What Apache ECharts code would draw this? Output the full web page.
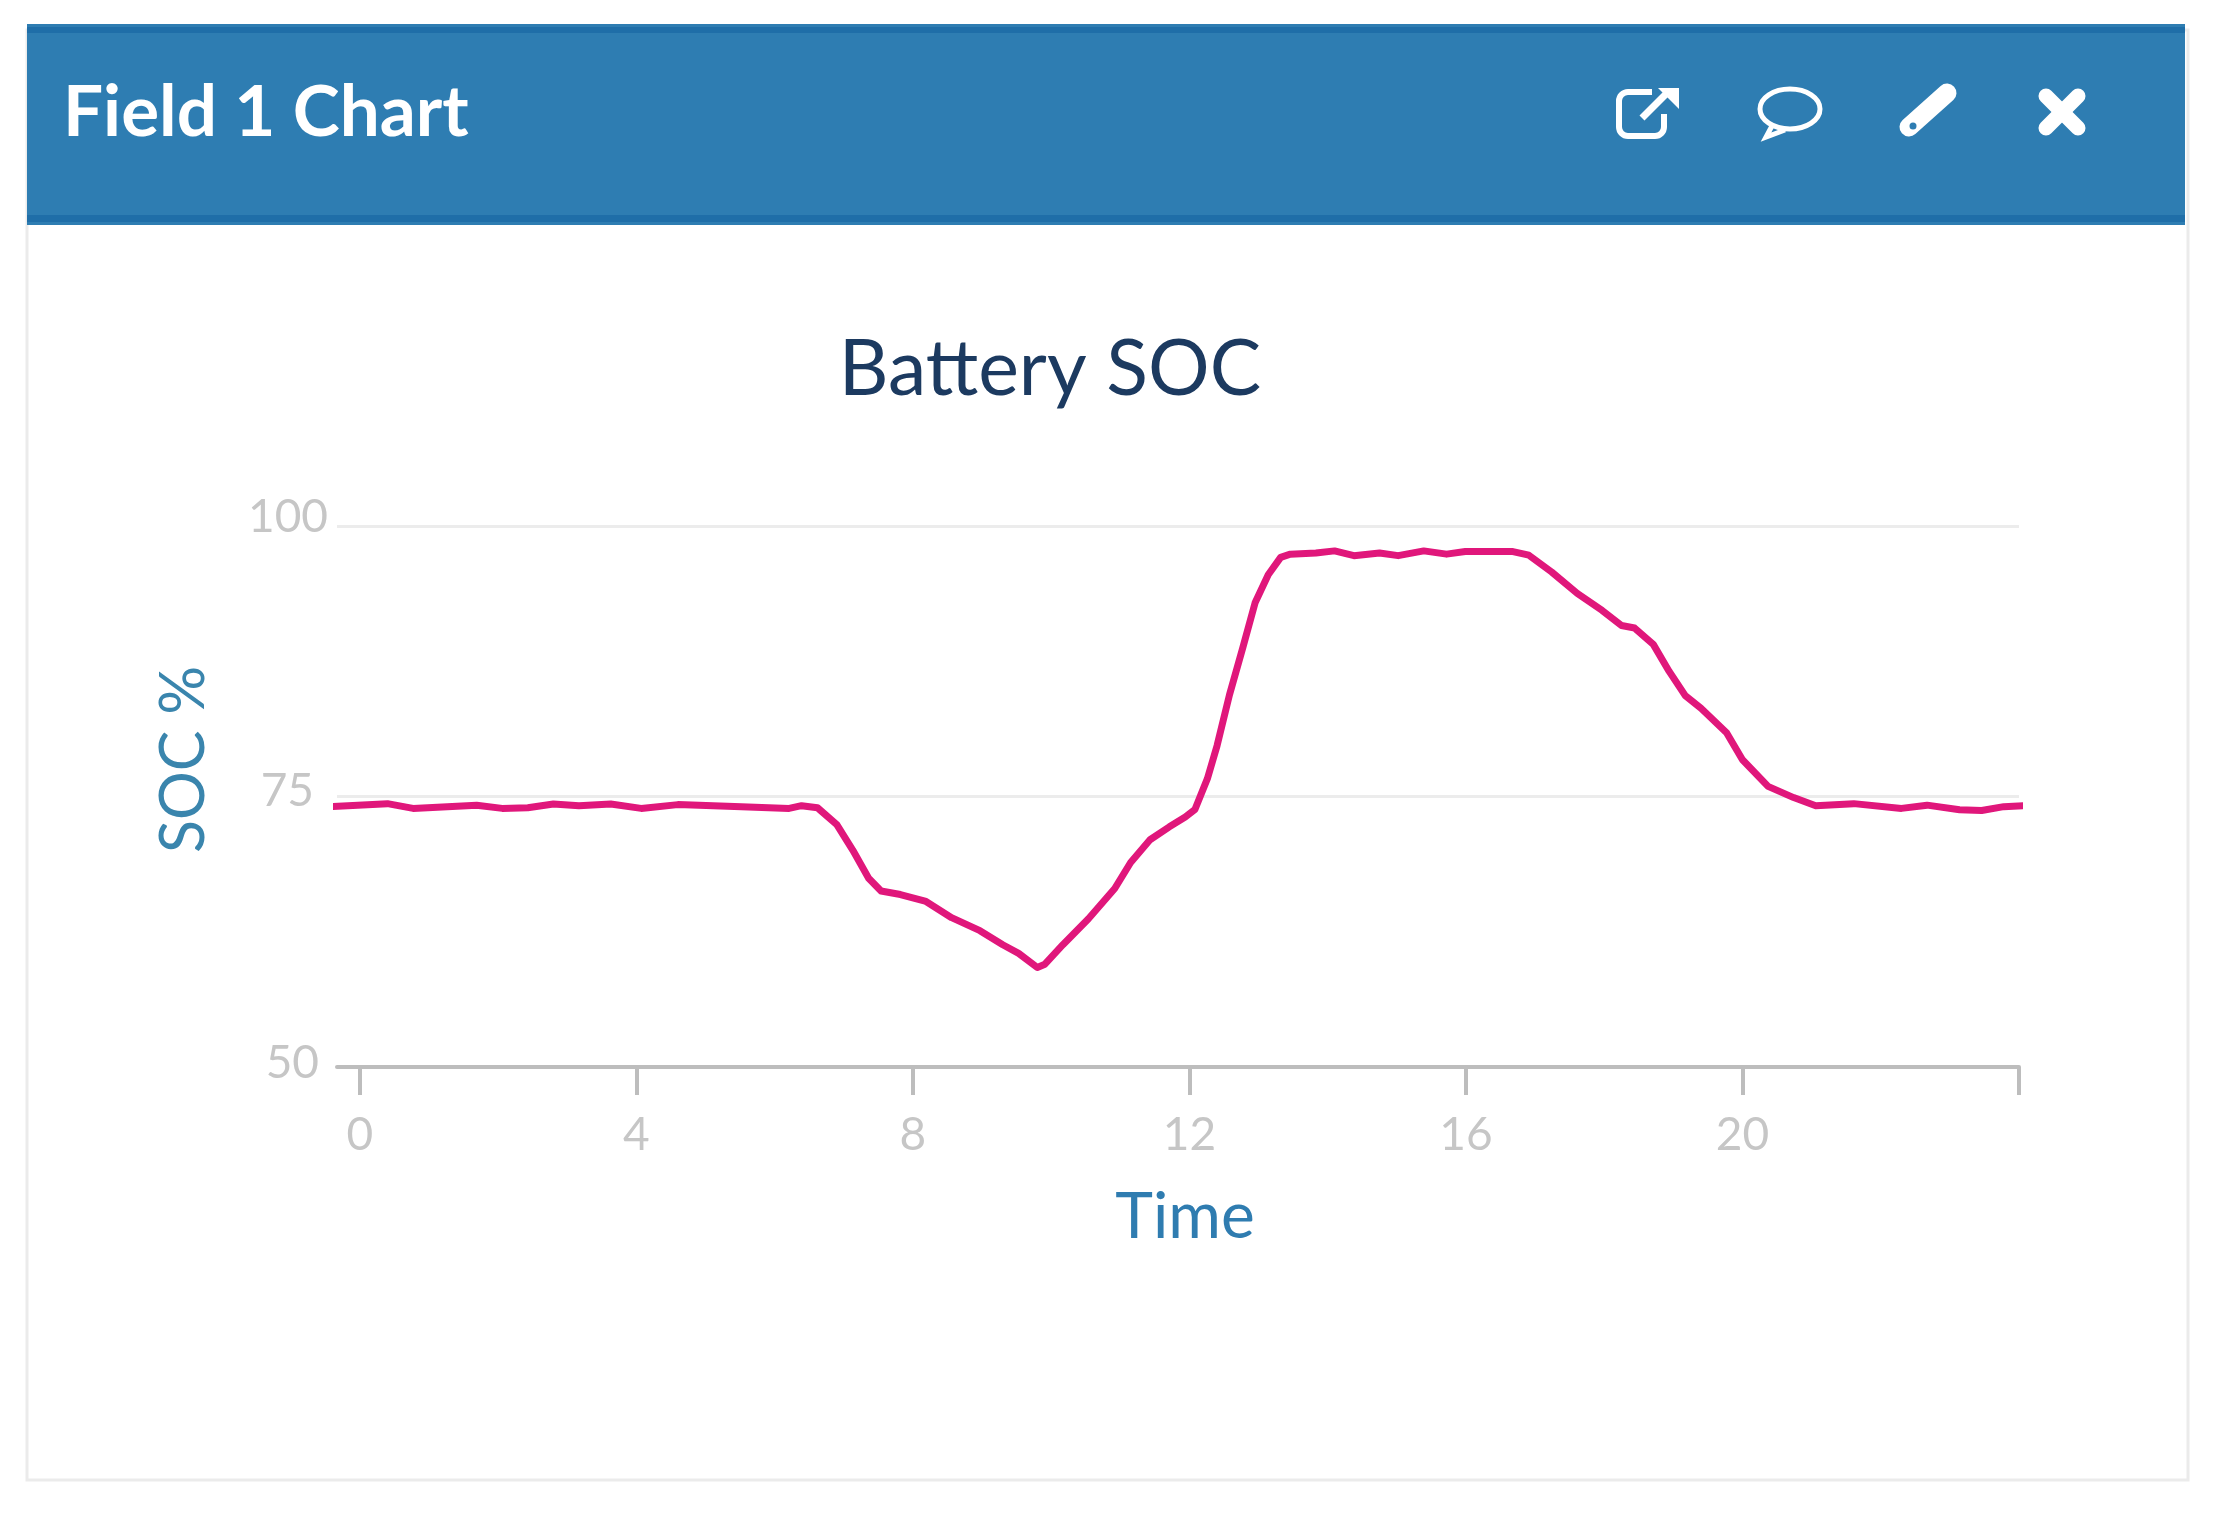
<!DOCTYPE html>
<html lang="en" style="height: 100%">
<head>
    <meta charset="UTF-8">
    <title>Field 1 Chart</title>
    <script src="https://cdn.jsdelivr.net/npm/echarts@6/dist/echarts.min.js"></script>
</head>
<body style="height: 100%; margin: 0; background: #fff">
<div id="main" style="width: 2215px; height: 1513px"></div>
<script>
    var hours = [-0.45, 0.40, 0.77, 1.69, 2.06, 2.43, 2.80, 3.17, 3.63, 4.07, 4.60, 5.52, 6.21, 6.39, 6.62,
        6.90, 7.13, 7.36, 7.54, 7.82, 8.19, 8.56, 8.97, 9.30, 9.53, 9.80, 9.91, 10.17, 10.54,
        10.92, 11.15, 11.43, 11.71, 11.94, 12.08, 12.26, 12.40, 12.58, 12.77, 12.95, 13.14, 13.32, 13.46,
        13.83, 14.10, 14.38, 14.75, 15.02, 15.39, 15.72, 15.99, 16.68, 16.91, 17.24, 17.61, 17.97, 18.25,
        18.44, 18.71, 18.94, 19.17, 19.40, 19.77, 20.00, 20.37, 20.74, 21.06, 21.61, 22.30, 22.67, 23.14,
        23.46, 23.78, 24.10];
    var soc = [74.06, 74.34, 73.9, 74.2, 73.9, 73.96, 74.3, 74.15, 74.3, 73.9, 74.25, 74.06, 73.9, 74.15, 73.96,
        72.4, 70.05, 67.45, 66.27, 65.94, 65.3, 63.8, 62.6, 61.3, 60.5, 59.2, 59.5, 61.3, 63.7,
        66.5, 68.9, 71, 72.2, 73.1, 73.8, 76.65, 79.7, 84.4, 88.7, 92.9, 95.5, 97.1, 97.4,
        97.5, 97.7, 97.26, 97.5, 97.26, 97.7, 97.4, 97.64, 97.64, 97.3, 95.75, 93.77, 92.2, 90.8,
        90.57, 89.06, 86.56, 84.34, 83.16, 80.9, 78.4, 75.94, 74.9, 74.15, 74.34, 73.9, 74.2, 73.77,
        73.7, 74.06, 74.15];
    var xTicks = [0, 4, 8, 12, 16, 20, 24];
    var xLabels = [0, 4, 8, 12, 16, 20];

    var font = 'Lato';
    var white = '#ffffff';
    var headerBlue = '#2e7db2';
    var tickLabel = {fontFamily: font, fontSize: 46, color: '#c6c6c6'};

    var myoption = {
        animation: false,
        backgroundColor: '#ffffff',
        title: [
            {
                text: 'Field 1 Chart',
                left: 58,
                top: 73,
                textStyle: {fontFamily: font, fontSize: 71, fontWeight: 'bold', color: white}
            },
            {
                text: 'Battery SOC',
                left: 1045,
                top: 327,
                textAlign: 'center',
                textStyle: {fontFamily: font, fontSize: 77, fontWeight: 'normal', color: '#1c3a60'}
            }
        ],
        grid: {left: 337, right: 196, top: 526, bottom: 446},
        xAxis: {
            type: 'value',
            min: -0.33,
            max: 24,
            name: 'Time',
            nameLocation: 'middle',
            nameGap: 118,
            nameTextStyle: {fontFamily: font, fontSize: 64, color: '#2f7cb0', padding: [0, 0, 0, 14]},
            splitLine: {show: false},
            axisLine: {lineStyle: {color: '#bdbdbd', width: 4}},
            axisTick: {customValues: xTicks, length: 28, lineStyle: {color: '#bdbdbd', width: 4}},
            axisLabel: Object.assign({customValues: xLabels, margin: 45}, tickLabel)
        },
        yAxis: {
            type: 'value',
            min: 50,
            max: 100,
            interval: 25,
            name: 'SOC %',
            nameLocation: 'middle',
            nameGap: 122,
            nameTextStyle: {fontFamily: font, fontSize: 61, color: '#3a85ad', padding: [0, 0, 0, 74]},
            axisLine: {show: false},
            axisTick: {show: false},
            splitLine: {lineStyle: {color: '#ececec', width: 3}},
            axisLabel: {
                margin: 9,
                formatter: function (v) { return '{t' + v + '|' + v + '}'; },
                rich: {
                    t100: Object.assign({padding: [0, 0, 18, 0]}, tickLabel),
                    t75: Object.assign({padding: [0, 14, 10, 0]}, tickLabel),
                    t50: Object.assign({padding: [0, 9, 7, 0]}, tickLabel)
                }
            }
        },
        series: [{
            name: 'SOC',
            type: 'line',
            data: hours.map(function (h, i) { return [h, soc[i]]; }),
            showSymbol: false,
            clip: false,
            lineStyle: {color: '#e0177b', width: 7, join: 'round'}
        }],
        graphic: [
            // card outline and header band
            {type: 'rect', z: -1, shape: {x: 27, y: 30, width: 2161, height: 1450}, style: {fill: '#fff', stroke: '#ebebeb', lineWidth: 3}},
            {type: 'rect', z: -1, shape: {x: 27, y: 24, width: 2158, height: 201}, style: {fill: headerBlue}},
            {type: 'rect', z: -1, shape: {x: 27, y: 27, width: 2158, height: 6}, style: {fill: '#1f6ea8'}},
            {type: 'rect', z: -1, shape: {x: 27, y: 215, width: 2158, height: 7}, style: {fill: '#1f6ea8'}},
            // external link icon
            {type: 'rect', shape: {x: 1619, y: 92, width: 45, height: 44, r: 9}, style: {fill: 'none', stroke: white, lineWidth: 6}},
            {type: 'polygon', shape: {points: [[1652, 84], [1672, 84], [1672, 114], [1652, 114]]}, style: {fill: headerBlue}},
            {type: 'line', shape: {x1: 1642, y1: 118, x2: 1668, y2: 92}, style: {stroke: white, lineWidth: 7}},
            {type: 'polygon', shape: {points: [[1658, 88], [1679, 88], [1679, 109]]}, style: {fill: white}},
            // comment icon
            {type: 'polyline', shape: {points: [[1773, 124], [1766, 137], [1785, 130]]}, style: {fill: 'none', stroke: white, lineWidth: 5}},
            {type: 'ellipse', shape: {cx: 1790, cy: 109, rx: 30, ry: 20}, style: {fill: 'none', stroke: white, lineWidth: 5}},
            // pencil icon
            {type: 'line', shape: {x1: 1909, y1: 127, x2: 1947, y2: 93}, style: {stroke: white, lineWidth: 19, lineCap: 'round'}},
            {type: 'circle', shape: {cx: 1913, cy: 126, r: 3.5}, style: {fill: headerBlue}},
            // close icon
            {type: 'line', shape: {x1: 2046, y1: 96, x2: 2078, y2: 128}, style: {stroke: white, lineWidth: 15, lineCap: 'round'}},
            {type: 'line', shape: {x1: 2078, y1: 96, x2: 2046, y2: 128}, style: {stroke: white, lineWidth: 15, lineCap: 'round'}}
        ]
    };
    var myChart = echarts.init(document.getElementById('main'));
    myChart.setOption(myoption);
</script>
</body>
</html>
